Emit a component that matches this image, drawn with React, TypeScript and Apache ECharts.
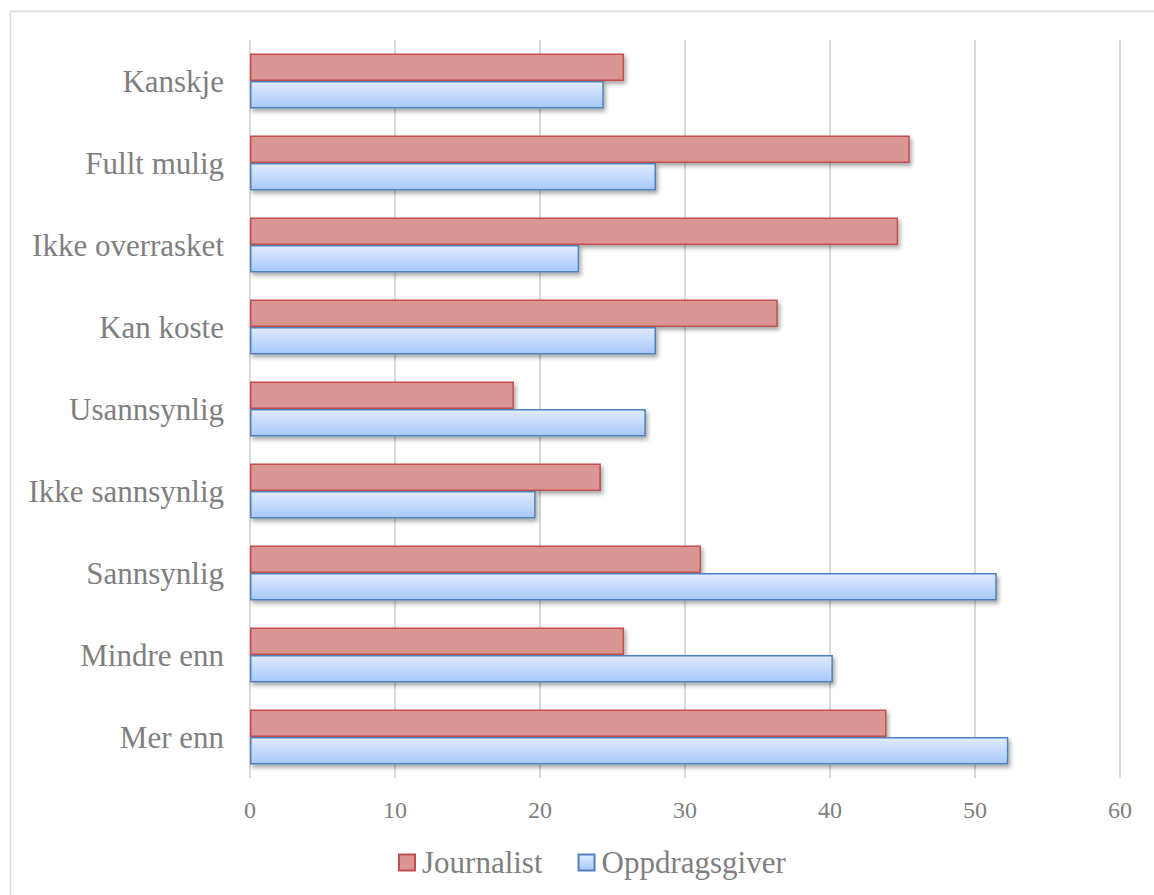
import React, { useEffect, useRef } from "react";
import * as echarts from "echarts";

// Survey answers, top to bottom
const categories = [
  "Kanskje",
  "Fullt mulig",
  "Ikke overrasket",
  "Kan koste",
  "Usannsynlig",
  "Ikke sannsynlig",
  "Sannsynlig",
  "Mindre enn",
  "Mer enn",
];

const journalistValues = [25.8, 45.5, 44.7, 36.4, 18.2, 24.2, 31.1, 25.8, 43.9];
const oppdragsgiverValues = [24.4, 28.0, 22.7, 28.0, 27.3, 19.7, 51.5, 40.2, 52.3];

const seriesNames = ["Journalist", "Oppdragsgiver"];
const axisTicks = [0, 10, 20, 30, 40, 50, 60];

const FONT = "'Liberation Serif', 'Times New Roman', serif";
const TEXT_COLOR = "#7f7f7f";

export default function App() {
  const ref = useRef<HTMLDivElement>(null);

  useEffect(() => {
    if (!ref.current) return;
    const chart = echarts.init(ref.current, undefined, { renderer: "svg" });

    const shadow = {
      shadowColor: "rgba(0,0,0,0.35)",
      shadowBlur: 4,
      shadowOffsetX: 2,
      shadowOffsetY: 3,
    };

    chart.setOption({
      animation: false,
      backgroundColor: "#ffffff",
      textStyle: { fontFamily: FONT },
      graphic: [
        {
          type: "rect",
          shape: { x: 10.5, y: 11.5, width: 1300, height: 1000 },
          style: { fill: "none", stroke: "#d9d9d9", lineWidth: 1.5 },
          silent: true,
          z: -10,
        },
      ],
      grid: { left: 250, right: 34, top: 40, bottom: 117 },
      xAxis: {
        type: "value",
        min: axisTicks[0],
        max: axisTicks[axisTicks.length - 1],
        interval: 10,
        axisLine: { show: false },
        axisTick: { show: false },
        splitLine: { show: true, lineStyle: { color: "#d9d9d9", width: 2 } },
        axisLabel: {
          color: TEXT_COLOR,
          fontFamily: FONT,
          fontSize: 24,
          margin: 20,
        },
      },
      yAxis: {
        type: "category",
        data: categories,
        inverse: true,
        axisLine: { show: false },
        axisTick: { show: false },
        splitLine: { show: false },
        axisLabel: {
          color: TEXT_COLOR,
          fontFamily: FONT,
          fontSize: 31,
          margin: 26,
        },
      },
      legend: {
        data: seriesNames,
        left: 398,
        top: 847,
        padding: 0,
        icon: "rect",
        itemWidth: 16,
        itemHeight: 16,
        itemGap: 35,
        textStyle: {
          color: TEXT_COLOR,
          fontFamily: FONT,
          fontSize: 31,
          padding: [0, 0, 0, 2],
        },
      },
      series: [
        {
          name: seriesNames[0],
          type: "bar",
          data: journalistValues,
          barGap: "0%",
          barCategoryGap: "33%",
          itemStyle: {
            color: "#d99694",
            borderColor: "#c0504d",
            borderWidth: 1.5,
            ...shadow,
          },
        },
        {
          name: seriesNames[1],
          type: "bar",
          data: oppdragsgiverValues,
          barGap: "0%",
          barCategoryGap: "33%",
          itemStyle: {
            color: new echarts.graphic.LinearGradient(0, 0, 0, 1, [
              { offset: 0, color: "#e0ebfe" },
              { offset: 1, color: "#a8c8f8" },
            ]),
            borderColor: "#4f81bd",
            borderWidth: 1.5,
            ...shadow,
          },
        },
      ],
    });

    return () => chart.dispose();
  }, []);

  return (
    <div
      ref={ref}
      style={{ position: "absolute", left: 0, top: 0, width: 1154, height: 895 }}
    />
  );
}
